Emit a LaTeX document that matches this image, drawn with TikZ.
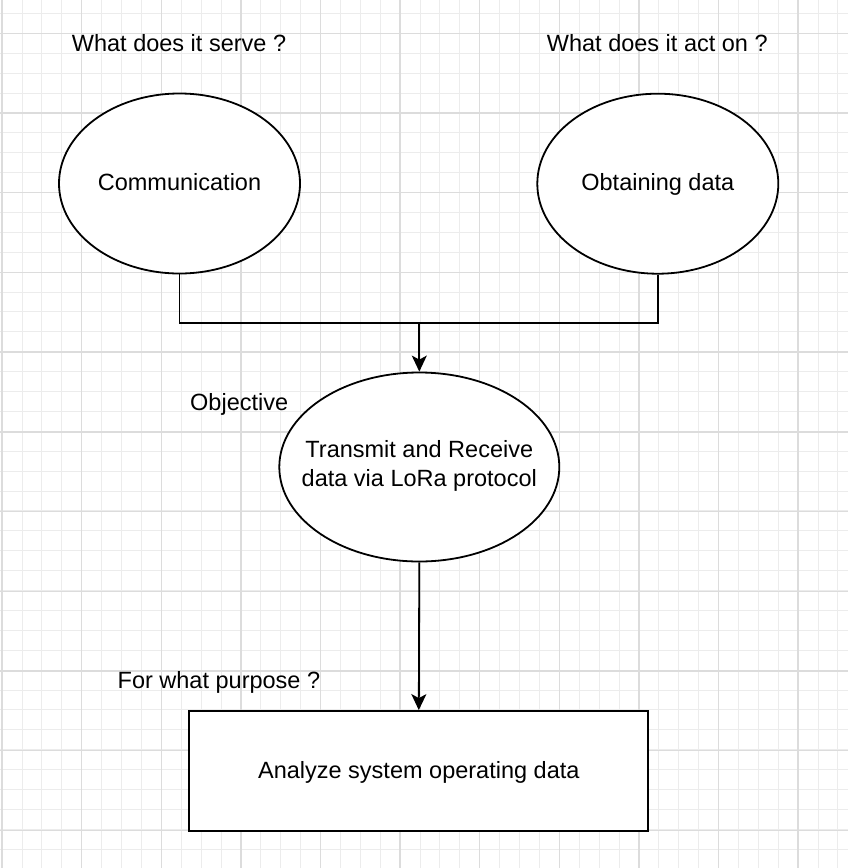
\documentclass[tikz,border=0pt]{standalone}
\usepackage{fontspec}
\setmainfont{Liberation Sans}
\usepackage{tikz}
\usetikzlibrary{shapes.geometric,arrows.meta}
\definecolor{minorgrid}{RGB}{236,236,236}
\definecolor{majorgrid}{RGB}{220,220,220}
\tikzstyle{bubble} = [draw=black, fill=white, line width=1.8pt,
    ellipse, inner sep=0pt, font=\fontsize{23.5}{29.3}\selectfont,
    text height=18pt, text depth=4pt]
\tikzstyle{taskbox} = [draw=black, fill=white, line width=1.8pt,
    rectangle, inner sep=0pt, font=\fontsize{23.5}{29.3}\selectfont,
    text height=18pt, text depth=4pt]
\tikzstyle{question} = [inner sep=0pt, anchor=base west, font=\fontsize{23.5}{29.3}\selectfont]
\tikzstyle{link} = [draw=black, line width=1.8pt]
\tikzstyle{flow} = [link, -{Stealth[length=16pt, width=15pt, inset=4pt]}]

\begin{document}
\begin{tikzpicture}[x=1pt, y=-1pt]
\useasboundingbox (0,0) rectangle (848,868);
\fill[white] (0,0) rectangle (848,868);
% grid paper
\foreach \i in {0,...,42}
    \draw[minorgrid, line width=1pt] ({2.1+19.9*\i},0) -- ({2.1+19.9*\i},868);
\foreach \j in {0,...,42}
    \draw[minorgrid, line width=1pt] (0,{13.4+19.9*\j}) -- (848,{13.4+19.9*\j});
\foreach \i in {0,...,10}
    \draw[majorgrid, line width=1.4pt] ({2.1+79.6*\i},0) -- ({2.1+79.6*\i},868);
\foreach \j in {0,...,10}
    \draw[majorgrid, line width=1.4pt] (0,{33.3+79.7*\j}) -- (848,{33.3+79.7*\j});

\node [bubble, minimum width=241pt, minimum height=180pt] (comm) at (179.5,183.5) {Communication};
\node [bubble, minimum width=241pt, minimum height=180pt] (obtain) at (657.8,183.7) {Obtaining data};
\node [bubble, minimum width=280pt, minimum height=189pt,
    label={[align=center, font=\fontsize{23.5}{29.3}\selectfont, yshift=1pt]center:Transmit and Receive\\data via LoRa protocol}]
    (objective) at (419.3,467) {};
\node [taskbox, minimum width=459pt, minimum height=120pt] (analyze) at (418.8,771)
    {Analyze system operating data};

\node [question] (serve) at (71.7,51.7) {What does it serve ?};
\node [question] (acton) at (546.7,51.7) {What does it act on ?};
\node [question] (goal) at (190,410) {Objective};
\node [question] (purpose) at (117.5,688.3) {For what purpose ?};

\coordinate (join) at (419.3,323.3);
\draw [link] (comm.south) |- (join) -| (obtain.south);
\draw [flow] (join) -- (objective.north);
\draw [flow] (objective.south) -- (analyze.north);
\end{tikzpicture}
\end{document}
